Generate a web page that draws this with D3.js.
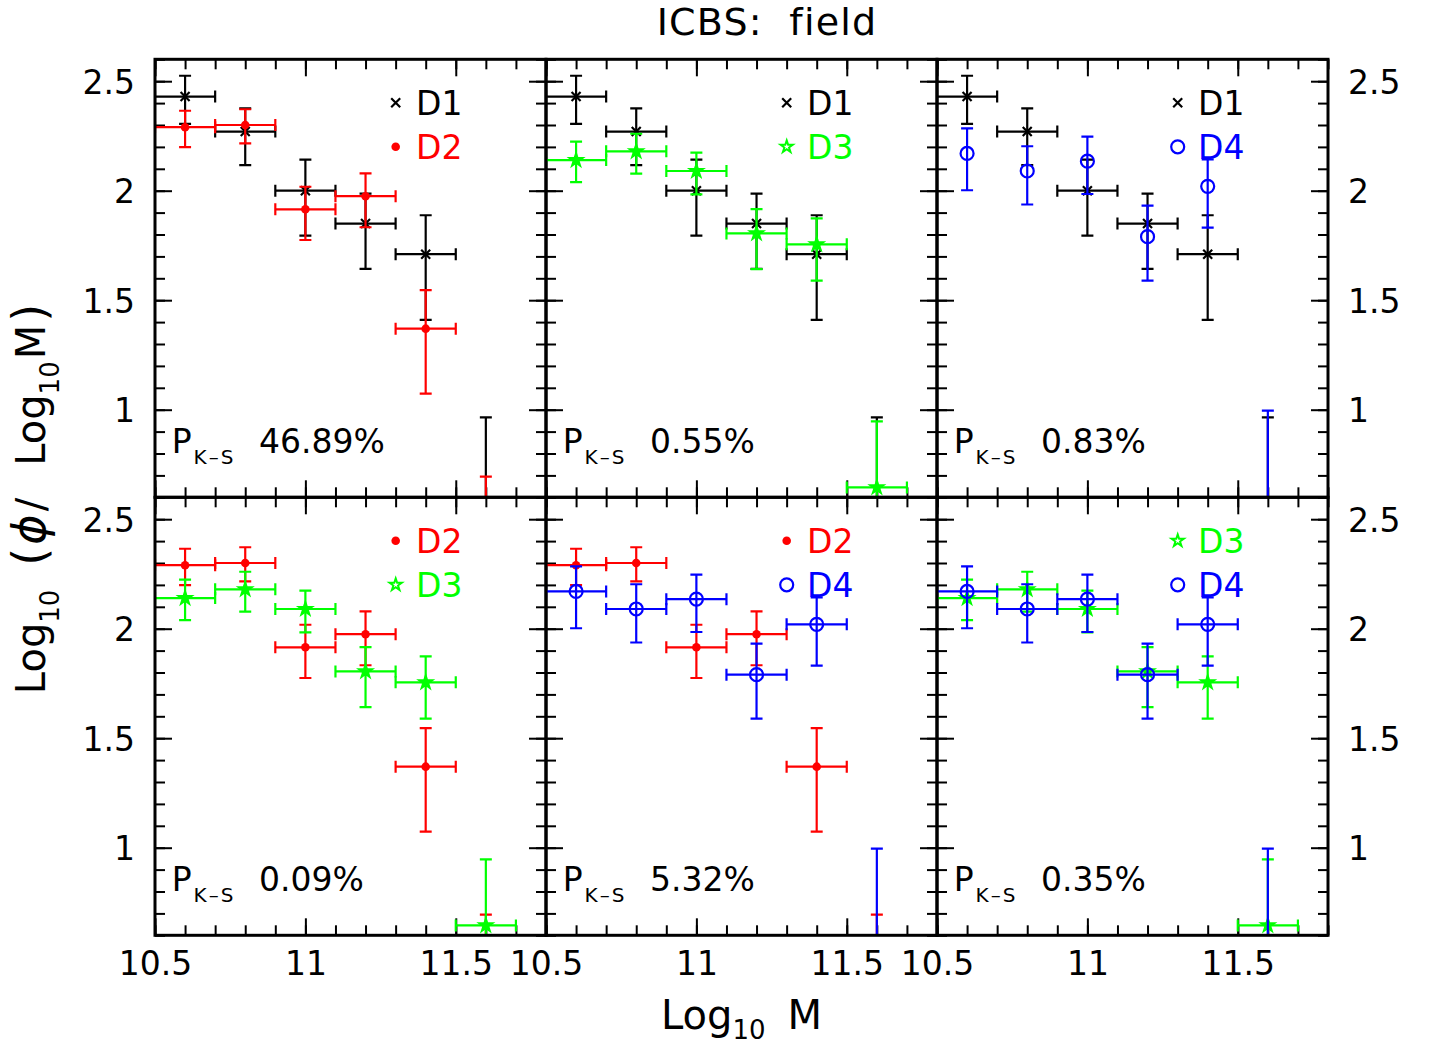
<!DOCTYPE html>
<html>
<head>
<meta charset="utf-8">
<script src="https://cdn.jsdelivr.net/npm/d3@7"></script>
<style>
  body { margin: 0; background: #fff; }
  text { font-family: 'DejaVu Sans', sans-serif; }
</style>
</head>
<body>
<svg id="chart" width="1429" height="1046"></svg>
<script>
// Stellar mass bins (log10 M) and half bin width
const massBins = [10.6, 10.8, 11.0, 11.2, 11.4, 11.6];
const binHalfWidth = 0.1;

// Mass function values log10(phi / log10 M) with asymmetric errors
const d1Values  = [2.43, 2.27, 2.00, 1.85, 1.71, 0.50];
const d1ErrUp   = [0.095, 0.106, 0.142, 0.137, 0.178, 0.465];
const d1ErrDown = [0.125, 0.153, 0.205, 0.207, 0.300, 0.500];

const d2Values  = [2.29, 2.30, 1.915, 1.975, 1.37, 0.30];
const d2ErrUp   = [0.075, 0.072, 0.103, 0.104, 0.176, 0.394];
const d2ErrDown = [0.091, 0.084, 0.140, 0.142, 0.297, 0.500];

const d3Values  = [2.14, 2.18, 2.09, 1.805, 1.755, 0.645];
const d3ErrUp   = [0.084, 0.080, 0.084, 0.111, 0.119, 0.302];
const d3ErrDown = [0.101, 0.102, 0.107, 0.163, 0.166, 0.400];

const d4Values  = [2.17, 2.09, 2.135, 1.79, 2.02, 0.52];
const d4ErrUp   = [0.115, 0.113, 0.112, 0.142, 0.123, 0.476];
const d4ErrDown = [0.168, 0.153, 0.150, 0.201, 0.189, 0.500];

// Axis ticks
const xMajorTicks = [10.5, 11, 11.5];
const xTickLabels = ['10.5', '11', '11.5'];
const yMajorTicks = [1, 1.5, 2, 2.5];
const yTickLabels = ['1', '1.5', '2', '2.5'];

// Panel contents: which two samples are compared, K-S probability
const panelPairs   = [['D1', 'D2'], ['D1', 'D3'], ['D1', 'D4'], ['D2', 'D3'], ['D2', 'D4'], ['D3', 'D4']];
const panelXErr    = [[true, true], [true, true], [true, false], [true, true], [true, true], [true, true]];
const panelPks     = ['46.89%', '0.55%', '0.83%', '0.09%', '5.32%', '0.35%'];

const series = {
  D1: { values: d1Values, up: d1ErrUp, down: d1ErrDown, color: '#000000', symbol: 'cross' },
  D2: { values: d2Values, up: d2ErrUp, down: d2ErrDown, color: '#ff0000', symbol: 'dot' },
  D3: { values: d3Values, up: d3ErrUp, down: d3ErrDown, color: '#00ff00', symbol: 'star' },
  D4: { values: d4Values, up: d4ErrUp, down: d4ErrDown, color: '#0000ff', symbol: 'circle' }
};

const svg = d3.select('#chart');
svg.append('rect').attr('width', 1429).attr('height', 1046).attr('fill', '#fff');

const xDomain = [10.5, 11.8];
const yDomain = [0.6, 2.6];
const plotLeft = 155, plotTop = 59.3, panelW = 391, panelH = 438;
const tickFont = 33;
const defs = svg.append('defs');

function drawMarker(g, kind, color, cx, cy, legend) {
  if (kind === 'cross') {
    const s = 4.5;
    g.append('path')
      .attr('d', `M${cx - s},${cy - s}L${cx + s},${cy + s}M${cx - s},${cy + s}L${cx + s},${cy - s}`)
      .attr('stroke', color).attr('stroke-width', 2.2).attr('fill', 'none');
  } else if (kind === 'dot') {
    g.append('circle').attr('cx', cx).attr('cy', cy).attr('r', 4.3).attr('fill', color);
  } else if (kind === 'circle') {
    g.append('circle').attr('cx', cx).attr('cy', cy).attr('r', 6.5)
      .attr('fill', 'none').attr('stroke', color).attr('stroke-width', 2.2);
  } else if (kind === 'star') {
    g.append('path')
      .attr('d', d3.symbol(d3.symbolStar, legend ? 46 : 52)())
      .attr('transform', `translate(${cx},${cy})`)
      .attr('fill', legend ? 'none' : color)
      .attr('stroke', color).attr('stroke-width', 2);
  }
}

function drawSeries(g, s, x, y, showXErr) {
  const cap = 6;
  const sw = 2.2;
  massBins.forEach((m, i) => {
    const v = s.values[i];
    const cx = x(m), cy = y(v);
    const yTop = y(v + s.up[i]), yBot = y(v - s.down[i]);
    // vertical error bar with caps
    g.append('path')
      .attr('d', `M${cx},${yTop}L${cx},${yBot}M${cx - cap},${yTop}L${cx + cap},${yTop}M${cx - cap},${yBot}L${cx + cap},${yBot}`)
      .attr('stroke', s.color).attr('stroke-width', sw).attr('fill', 'none');
    if (showXErr) {
      const xl = x(m - binHalfWidth), xr = x(m + binHalfWidth);
      g.append('path')
        .attr('d', `M${xl},${cy}L${xr},${cy}M${xl},${cy - cap}L${xl},${cy + cap}M${xr},${cy - cap}L${xr},${cy + cap}`)
        .attr('stroke', s.color).attr('stroke-width', sw).attr('fill', 'none');
    }
    drawMarker(g, s.symbol, s.color, cx, cy, false);
  });
}

function styleTicks(g) {
  g.select('.domain').remove();
  g.selectAll('line').attr('stroke', '#000').attr('stroke-width', 2);
}

panelPairs.forEach((pair, p) => {
  const col = p % 3, row = Math.floor(p / 3);
  const left = plotLeft + col * panelW;
  const top = plotTop + row * panelH;
  const x = d3.scaleLinear().domain(xDomain).range([left, left + panelW]);
  const y = d3.scaleLinear().domain(yDomain).range([top + panelH, top]);
  const xMinor = x.ticks(13);
  const yMinor = y.ticks(20);

  const pg = svg.append('g').attr('class', 'panel');

  // inward ticks on all four sides
  const tickSets = [
    [d3.axisBottom, `translate(0,${top + panelH})`, x, xMinor, xMajorTicks],
    [d3.axisTop, `translate(0,${top})`, x, xMinor, xMajorTicks],
    [d3.axisLeft, `translate(${left},0)`, y, yMinor, yMajorTicks],
    [d3.axisRight, `translate(${left + panelW},0)`, y, yMinor, yMajorTicks]
  ];
  tickSets.forEach(([axisFn, tr, sc, minor, major]) => {
    pg.append('g').attr('transform', tr)
      .call(axisFn(sc).tickValues(minor).tickSize(-10).tickFormat(''))
      .call(styleTicks);
    pg.append('g').attr('transform', tr)
      .call(axisFn(sc).tickValues(major).tickSize(-17).tickFormat(''))
      .call(styleTicks);
  });

  // tick labels
  if (row === 1) {
    const gx = pg.append('g').attr('transform', `translate(0,${top + panelH})`)
      .call(d3.axisBottom(x).tickValues(xMajorTicks).tickSize(0)
        .tickFormat((d, i) => xTickLabels[i]));
    gx.select('.domain').remove();
    gx.attr('font-size', tickFont).attr('font-family', null);
    gx.selectAll('text').attr('y', 16).attr('dy', '0.71em').attr('fill', '#000');
  }
  if (col === 0 || col === 2) {
    const axisFn = col === 0 ? d3.axisLeft : d3.axisRight;
    const gy = pg.append('g').attr('transform', `translate(${col === 0 ? left : left + panelW},0)`)
      .call(axisFn(y).tickValues(yMajorTicks).tickSize(0).tickPadding(20)
        .tickFormat((d, i) => yTickLabels[i]));
    gy.select('.domain').remove();
    gy.attr('font-size', tickFont).attr('font-family', null);
    gy.selectAll('text').attr('dy', '0.36em').attr('fill', '#000');
  }

  // data, clipped to the panel
  defs.append('clipPath').attr('id', `clip${p}`)
    .append('rect').attr('x', left).attr('y', top).attr('width', panelW).attr('height', panelH);
  const dg = pg.append('g').attr('clip-path', `url(#clip${p})`);
  pair.forEach((name, k) => drawSeries(dg, series[name], x, y, panelXErr[p][k]));

  // legend
  pair.forEach((name, k) => {
    const s = series[name];
    const ly = top + 43.5 + k * 44;
    drawMarker(pg, s.symbol, s.color, left + 240.7, ly, true);
    pg.append('text').attr('x', left + 261).attr('y', ly + 12.3)
      .attr('font-size', 33).attr('fill', s.color).text(name);
  });

  // Kolmogorov-Smirnov probability
  const kt = pg.append('text').attr('x', left + 16.7).attr('y', top + 394)
    .attr('font-size', 33).attr('fill', '#000');
  kt.append('tspan').text('P');
  kt.append('tspan').attr('font-size', 20).attr('dx', 2).attr('dy', 11)
    .attr('letter-spacing', 2).text('K–S');
  kt.append('tspan').attr('x', left + 104).attr('dy', -11).text(panelPks[p]);

  // frame
  pg.append('rect').attr('x', left).attr('y', top).attr('width', panelW).attr('height', panelH)
    .attr('fill', 'none').attr('stroke', '#000').attr('stroke-width', 3);
});

// title
svg.append('text').attr('x', 767).attr('y', 35).attr('text-anchor', 'middle')
  .attr('font-size', 38).attr('letter-spacing', 1.2).style('white-space', 'pre').text('ICBS:  field');

// x axis title
const xt = svg.append('text').attr('x', plotLeft + 1.5 * panelW).attr('y', 1029)
  .attr('text-anchor', 'middle').attr('font-size', 40);
xt.append('tspan').text('Log');
xt.append('tspan').attr('font-size', 26).attr('dy', 10).text('10');
xt.append('tspan').attr('dy', -10).attr('dx', 22).text('M');

// y axis title
const yt = svg.append('text').attr('transform', 'translate(45,499) rotate(-90)')
  .attr('text-anchor', 'middle').attr('font-size', 40);
yt.append('tspan').text('Log');
yt.append('tspan').attr('font-size', 26).attr('dy', 14).text('10');
yt.append('tspan').attr('dy', -14).attr('dx', 24).attr('font-size', 46).text('(');
yt.append('tspan').attr('dx', 3).attr('font-style', 'italic').attr('font-size', 46).text('ϕ');
yt.append('tspan').attr('dx', 3).text('/');
yt.append('tspan').attr('dx', 32).text('Log');
yt.append('tspan').attr('font-size', 26).attr('dy', 14).text('10');
yt.append('tspan').attr('dy', -14).attr('dx', 2).text('M');
yt.append('tspan').attr('dx', 3).attr('font-size', 46).text(')');
</script>
</body>
</html>
